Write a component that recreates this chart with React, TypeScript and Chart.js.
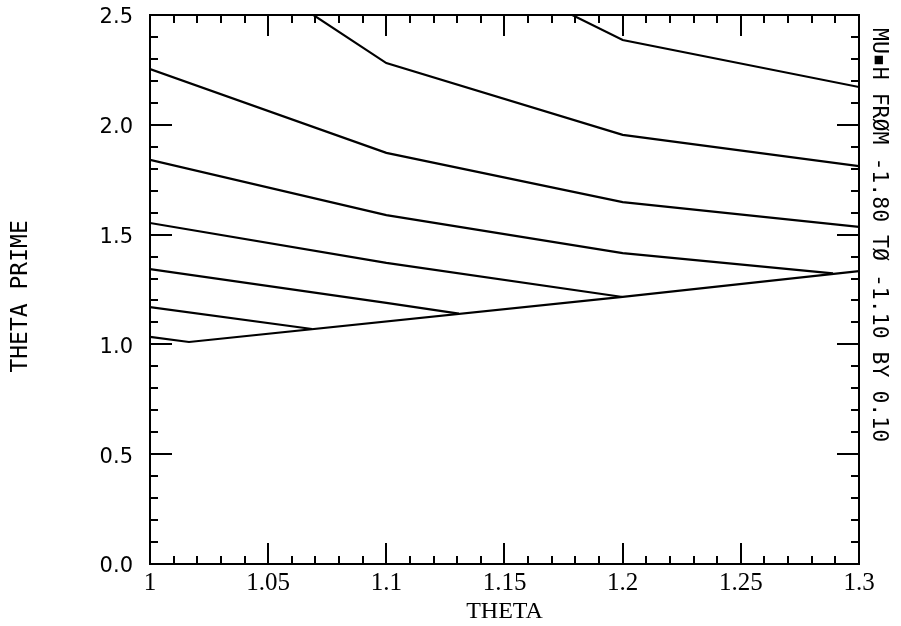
import React, { useEffect, useRef } from "react";
import { Chart, registerables } from "chart.js";

Chart.register(...registerables);

// Series: each contour curve as x (THETA) and y (THETA PRIME) lists, top curve first
const curveA_x = [1.1, 1.2, 1.3];
const curveA_y = [2.92, 2.386, 2.172];
const curveB_x = [1.0, 1.1, 1.2, 1.3];
const curveB_y = [2.99, 2.281, 1.954, 1.812];
const curveC_x = [1.0, 1.1, 1.2, 1.3];
const curveC_y = [2.254, 1.872, 1.648, 1.535];
const curveD_x = [1.0, 1.1, 1.2, 1.289];
const curveD_y = [1.84, 1.589, 1.416, 1.323];
const curveE_x = [1.0, 1.1, 1.2];
const curveE_y = [1.553, 1.371, 1.216];
const curveF_x = [1.0, 1.1, 1.1307];
const curveF_y = [1.343, 1.189, 1.14];
const curveG_x = [1.0, 1.0686];
const curveG_y = [1.17, 1.07];
const curveH_x = [1.0, 1.0165, 1.2, 1.3];
const curveH_y = [1.034, 1.011, 1.216, 1.334];

const curveNames = ["MU*H -1.80", "MU*H -1.70", "MU*H -1.60", "MU*H -1.50", "MU*H -1.40", "MU*H -1.30", "MU*H -1.20", "MU*H -1.10"];
const curvesX = [curveA_x, curveB_x, curveC_x, curveD_x, curveE_x, curveF_x, curveG_x, curveH_x];
const curvesY = [curveA_y, curveB_y, curveC_y, curveD_y, curveE_y, curveF_y, curveG_y, curveH_y];

// Axes
const xMin = 1.0;
const xMax = 1.3;
const xLabelStep = 0.05;
const xMinorStep = 0.01;
const yMin = 0;
const yMax = 2.5;
const yLabelStep = 0.5;
const yMinorStep = 0.1;

const xTitle = "THETA";
const yTitle = "THETA PRIME ";
const rightTitle = " MU\u25AAH FR\u00D8M -1.80 T\u00D8 -1.10 BY 0.10";

const insideTicks = {
  id: "insideTicks",
  afterDraw(chart: any) {
    const { ctx, chartArea } = chart;
    const { left, right, top, bottom } = chartArea;
    const xs = chart.scales.x;
    const ys = chart.scales.y;
    ctx.save();
    ctx.strokeStyle = "#000";
    ctx.lineWidth = 2;
    ctx.beginPath();
    const nx = Math.round((xMax - xMin) / xMinorStep);
    for (let i = 1; i < nx; i++) {
      const v = xMin + i * xMinorStep;
      const px = Math.round(xs.getPixelForValue(v));
      const len = i % 5 === 0 ? 21 : 8;
      ctx.moveTo(px, bottom);
      ctx.lineTo(px, bottom - len);
      ctx.moveTo(px, top);
      ctx.lineTo(px, top + len);
    }
    const ny = Math.round((yMax - yMin) / yMinorStep);
    for (let i = 1; i < ny; i++) {
      const v = yMin + i * yMinorStep;
      const py = Math.round(ys.getPixelForValue(v));
      const len = i % 5 === 0 ? 22 : 8;
      ctx.moveTo(left, py);
      ctx.lineTo(left + len, py);
      ctx.moveTo(right, py);
      ctx.lineTo(right - len, py);
    }
    ctx.stroke();
    ctx.restore();
  },
};

const noPad = (s: any) => {
  s.paddingTop = 0;
  s.paddingBottom = 0;
  s.paddingLeft = 0;
  s.paddingRight = 0;
};

export default function App() {
  const ref = useRef<HTMLCanvasElement>(null);

  useEffect(() => {
    const datasets = curvesX.map((xs, i) => ({
      label: curveNames[i],
      data: xs.map((x, j) => ({ x, y: curvesY[i][j] })),
      showLine: true,
      borderColor: "#000",
      backgroundColor: "#000",
      borderWidth: 2.2,
      pointRadius: 0,
      tension: 0,
      fill: false,
    }));

    const chart = new Chart(ref.current as HTMLCanvasElement, {
      type: "scatter",
      data: { datasets },
      options: {
        animation: false,
        responsive: false,
        maintainAspectRatio: false,
        layout: { padding: 0 },
        plugins: {
          legend: { display: false },
          tooltip: { enabled: false },
        },
        scales: {
          x: {
            type: "linear",
            position: "bottom",
            min: xMin,
            max: xMax,
            afterFit: (s: any) => {
              s.height = 62;
              noPad(s);
            },
            border: { display: true, color: "#000", width: 2 },
            grid: { display: true, drawOnChartArea: false, drawTicks: false },
            ticks: {
              stepSize: xLabelStep,
              autoSkip: false,
              maxRotation: 0,
              padding: 4,
              color: "#000",
              font: { family: "'Liberation Serif', 'Times New Roman', serif", size: 25 },
              callback: (v: any) => String(parseFloat(Number(v).toFixed(2))),
            },
            title: {
              display: true,
              text: xTitle,
              color: "#000",
              font: { family: "'Liberation Serif', 'Times New Roman', serif", size: 24 },
              padding: { top: 0, bottom: 0 },
            },
          },
          xTop: {
            type: "linear",
            position: "top",
            min: xMin,
            max: xMax,
            afterFit: (s: any) => {
              s.height = 15;
              noPad(s);
            },
            border: { display: true, color: "#000", width: 2 },
            grid: { display: true, drawOnChartArea: false, drawTicks: false },
            ticks: { display: false },
          },
          y: {
            type: "linear",
            position: "left",
            min: yMin,
            max: yMax,
            afterFit: (s: any) => {
              s.width = 150;
              noPad(s);
            },
            border: { display: true, color: "#000", width: 2 },
            grid: { display: true, drawOnChartArea: false, drawTicks: false },
            ticks: {
              stepSize: yLabelStep,
              padding: 17,
              labelOffset: 3,
              color: "#000",
              font: { family: "'DejaVu Sans', sans-serif", size: 21 },
              callback: (v: any) => Number(v).toFixed(1),
            },
            title: {
              display: true,
              text: yTitle,
              color: "#000",
              font: { family: "'DejaVu Sans Mono', monospace", size: 23 },
              padding: { top: 7, bottom: 0 },
            },
          },
          yRight: {
            type: "linear",
            position: "right",
            min: yMin,
            max: yMax,
            afterFit: (s: any) => {
              s.width = 42;
              noPad(s);
            },
            border: { display: true, color: "#000", width: 2 },
            grid: { display: true, drawOnChartArea: false, drawTicks: false },
            ticks: { display: false },
            title: {
              display: true,
              text: rightTitle,
              align: "end",
              color: "#000",
              font: { family: "'DejaVu Sans Mono', monospace", size: 21.5 },
              padding: { top: 10, bottom: 0 },
            },
          },
        },
      },
      plugins: [insideTicks],
    } as any);

    return () => chart.destroy();
  }, []);

  return (
    <div style={{ position: "fixed", left: 0, top: 0, width: 901, height: 626, background: "#fff" }}>
      <canvas ref={ref} width={901} height={626} style={{ display: "block", width: 901, height: 626 }} />
    </div>
  );
}
